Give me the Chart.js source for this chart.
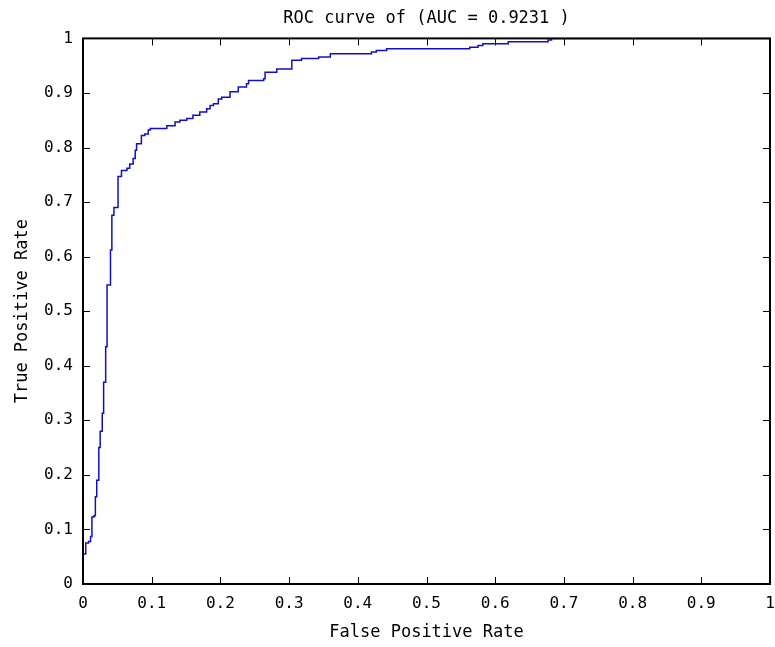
<!DOCTYPE html>
<html>
<head>
<meta charset="utf-8">
<script src="https://cdn.jsdelivr.net/npm/chart.js@4.4.0/dist/chart.umd.min.js"></script>
<style>
  html, body { margin: 0; padding: 0; background: #fff; }
  #wrap { width: 775px; height: 647px; }
</style>
</head>
<body>
<div id="wrap"><canvas id="roc-chart"></canvas></div>
<script>
'use strict';

// DATA
let fprValues = [
  0, 0, 0.004, 0.008, 0.011, 0.013, 0.013, 0.016, 0.018, 0.018,
  0.020, 0.023, 0.023, 0.025, 0.028, 0.028, 0.030, 0.030, 0.033, 0.033,
  0.035, 0.035, 0.040, 0.040, 0.042, 0.042, 0.045, 0.051, 0.051, 0.056,
  0.064, 0.068, 0.073, 0.076, 0.078, 0.085, 0.090, 0.095, 0.098, 0.115,
  0.122, 0.134, 0.141, 0.151, 0.160, 0.170, 0.180, 0.185, 0.190, 0.197,
  0.202, 0.214, 0.226, 0.238, 0.241, 0.263, 0.265, 0.282, 0.304, 0.318,
  0.343, 0.360, 0.413, 0.420, 0.427, 0.442, 0.560, 0.563, 0.575, 0.582,
  0.617, 0.619, 0.677, 0.682, 1
];
let tprValues = [
  0, 0.055, 0.075, 0.078, 0.087, 0.105, 0.123, 0.125, 0.140, 0.160,
  0.190, 0.190, 0.250, 0.280, 0.300, 0.313, 0.313, 0.370, 0.370, 0.435,
  0.435, 0.548, 0.552, 0.612, 0.630, 0.676, 0.690, 0.690, 0.747, 0.758,
  0.762, 0.770, 0.780, 0.795, 0.807, 0.822, 0.825, 0.832, 0.835, 0.835,
  0.840, 0.847, 0.850, 0.853, 0.859, 0.865, 0.871, 0.877, 0.880, 0.889,
  0.892, 0.902, 0.911, 0.917, 0.923, 0.926, 0.938, 0.944, 0.960, 0.963,
  0.966, 0.972, 0.972, 0.975, 0.978, 0.981, 0.981, 0.984, 0.987, 0.990,
  0.990, 0.994, 0.997, 1.0, 1.0
];
let tickLabels = ['0', '0.1', '0.2', '0.3', '0.4', '0.5', '0.6', '0.7', '0.8', '0.9', '1'];
let aucValue = '0.9231';

// BUILD POINTS FOR THE CHART
let rocPoints = [];
for (let i = 0; i < fprValues.length; i++) {
  rocPoints.push({ x: fprValues[i], y: tprValues[i] });
}

let monoFont = 'DejaVu Sans Mono';

function tickLabel(value) {
  let idx = Math.round(value * 10);
  return tickLabels[idx];
}

// box around the plot + ticks pointing inwards on all four sides (matlab style)
let boxPlugin = {
  id: 'boxPlugin',
  afterDraw(chart) {
    let ctx = chart.ctx;
    let area = chart.chartArea;
    let xScale = chart.scales.x;
    let yScale = chart.scales.y;
    let tickLen = 7;
    ctx.save();
    ctx.strokeStyle = '#000';
    ctx.lineWidth = 2;
    ctx.strokeRect(area.left, area.top, area.right - area.left, area.bottom - area.top);
    ctx.lineWidth = 1;
    ctx.beginPath();
    for (let i = 1; i < tickLabels.length - 1; i++) {
      let px = Math.round(xScale.getPixelForValue(i / 10)) + 0.5;
      ctx.moveTo(px, area.bottom);
      ctx.lineTo(px, area.bottom - tickLen);
      ctx.moveTo(px, area.top);
      ctx.lineTo(px, area.top + tickLen);
      let py = Math.round(yScale.getPixelForValue(i / 10)) + 0.5;
      ctx.moveTo(area.left, py);
      ctx.lineTo(area.left + tickLen, py);
      ctx.moveTo(area.right, py);
      ctx.lineTo(area.right - tickLen, py);
    }
    ctx.stroke();
    ctx.restore();
  }
};

let rocConfig = {
  type: 'scatter',
  data: {
    datasets: [{
      label: 'ROC',
      data: rocPoints,
      showLine: true,
      stepped: 'before',
      borderColor: '#1010c0',
      borderWidth: 1.5,
      pointRadius: 0,
      clip: 0,
      fill: false
    }]
  },
  options: {
    responsive: true,
    maintainAspectRatio: false,
    animation: false,
    layout: {
      padding: { left: 0, right: 5, top: 0, bottom: 0 }
    },
    plugins: {
      legend: { display: false },
      tooltip: { enabled: false },
      title: {
        display: true,
        text: 'ROC curve of (AUC = ' + aucValue + ' )',
        fullSize: false,
        color: '#000',
        font: { family: monoFont, size: 17, weight: 'normal' },
        padding: { top: 8, bottom: 10 }
      }
    },
    scales: {
      x: {
        type: 'linear',
        min: 0,
        max: 1,
        afterFit(scale) {
          scale.height = 63;
          scale.paddingLeft = 0;
          scale.paddingRight = 0;
        },
        grid: { display: false, drawTicks: false },
        border: { display: false },
        ticks: {
          stepSize: 0.1,
          color: '#000',
          padding: 10,
          maxRotation: 0,
          font: { family: monoFont, size: 16 },
          callback: tickLabel
        },
        title: {
          display: true,
          text: 'False Positive Rate',
          color: '#000',
          font: { family: monoFont, size: 17 },
          padding: { top: 5 }
        }
      },
      y: {
        type: 'linear',
        min: 0,
        max: 1,
        afterFit(scale) {
          scale.width = 83;
          scale.paddingTop = 0;
          scale.paddingBottom = 0;
        },
        grid: { display: false, drawTicks: false },
        border: { display: false },
        ticks: {
          stepSize: 0.1,
          color: '#000',
          padding: 10,
          font: { family: monoFont, size: 16 },
          callback: tickLabel
        },
        title: {
          display: true,
          text: 'True Positive Rate',
          color: '#000',
          font: { family: monoFont, size: 17 },
          padding: { top: 12, bottom: 4 }
        }
      }
    }
  },
  plugins: [boxPlugin]
};

new Chart(document.getElementById('roc-chart'), rocConfig);
</script>
</body>
</html>
